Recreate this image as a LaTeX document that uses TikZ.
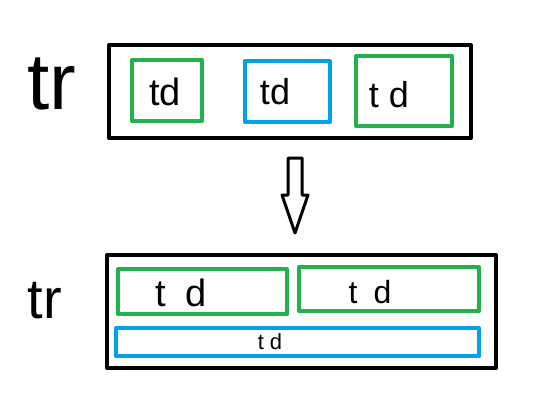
\documentclass[tikz,border=0pt]{standalone}
\usepackage{fontspec}
\setmainfont{Liberation Sans}

\definecolor{paintgreen}{RGB}{34,177,76}
\definecolor{paintblue}{RGB}{0,162,232}

\begin{document}
\begin{tikzpicture}[x=1pt, y=-1pt, line join=round,
    rowbox/.style={draw=black, line width=4pt, inner sep=0pt},
    cellg/.style={draw=paintgreen, line width=4pt, inner sep=0pt},
    cellb/.style={draw=paintblue, line width=4pt, inner sep=0pt},
    big/.style={font=\fontsize{80}{80}\selectfont, inner sep=0pt},
    mid/.style={font=\fontsize{56}{56}\selectfont, inner sep=0pt},
    lbl/.style={font=\fontsize{#1}{#1}\selectfont, inner sep=0pt}]
  \useasboundingbox (0,0) rectangle (540,404);

  %--- table before: one row, three cells side by side
  \node[rowbox, minimum width=362pt, minimum height=93pt] (rowA) at (290,91.5) {};
  \node[big] (trA) at (52,84) {tr};

  \node[cellg, minimum width=70pt, minimum height=61pt] (cellA1) at (167,90.5) {};
  \node[cellb, minimum width=85pt, minimum height=61pt] (cellA2) at (287.5,91.5) {};
  \node[cellg, minimum width=96pt, minimum height=70pt] (cellA3) at (404,91) {};

  \node[lbl=38] (tdA1) at (165,92) {td};
  \node[lbl=36] (tdA2) at (275,92) {td};
  \node[lbl=36] (tdA3) at (389,95) {t d};

  %--- hollow arrow down
  \draw[line width=3pt]
    (288,158) -- (302,158) -- (302,195) -- (308,195) --
    (295,233) -- (282,195) -- (288,195) -- cycle;

  %--- table after: two cells on top, one wide cell below
  \node[rowbox, minimum width=389pt, minimum height=113pt] (rowB) at (301.5,311.5) {};
  \node[mid] (trB) at (45,301) {tr};

  \node[cellg, minimum width=169pt, minimum height=45pt] (cellB1) at (202.5,291.5) {};
  \node[cellg, minimum width=180pt, minimum height=44pt] (cellB2) at (389,289) {};
  \node[cellb, minimum width=363pt, minimum height=28pt] (cellB3) at (297.5,342) {};

  \node[lbl=38] (tdB1) at (181,293) {t\hspace{0.5em}d};
  \node[lbl=32] (tdB2) at (370,292) {t\hspace{0.5em}d};
  \node[lbl=22] (tdB3) at (270,342) {t d};
\end{tikzpicture}
\end{document}
